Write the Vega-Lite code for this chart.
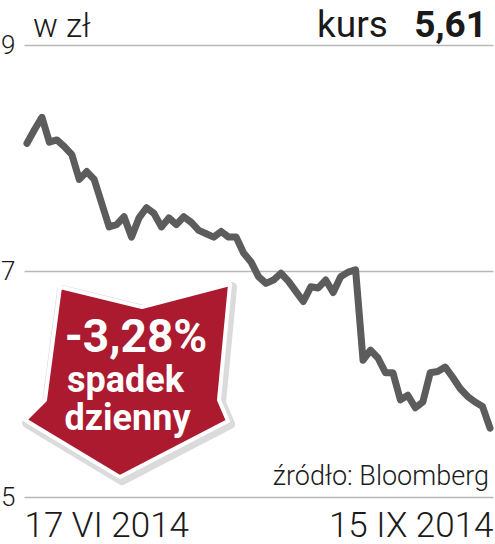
{
  "$schema": "https://vega.github.io/schema/vega-lite/v6.json",
  "width": 469,
  "height": 452,
  "autosize": {"type": "none"},
  "padding": {"left": 24, "top": 45, "right": 2, "bottom": 47},
  "background": "white",
  "config": {"view": {"stroke": null}, "font": "Roboto"},
  "encoding": {
    "x": {
      "field": "i", "type": "quantitative",
      "scale": {"domain": [-0.4, 62.4], "nice": false, "zero": false},
      "axis": {
        "values": [-0.4, 62.4],
        "labelExpr": "datum.value < 30 ? '17 VI 2014' : '15 IX 2014'",
        "labelFlush": true,
        "domain": false, "ticks": false, "grid": false,
        "labelFont": "Roboto", "labelFontSize": 35, "labelFontWeight": 300,
        "labelColor": "#1a1a1a", "labelPadding": 11, "title": null
      }
    },
    "y": {
      "field": "v", "type": "quantitative",
      "scale": {"domain": [5, 9], "nice": false, "zero": false},
      "axis": {
        "values": [5, 7, 9],
        "grid": true, "gridColor": "#b8b8b8", "gridWidth": 1.5,
        "domain": false, "ticks": false,
        "labelFont": "Roboto", "labelFontSize": 26, "labelFontWeight": 300,
        "labelColor": "#1a1a1a", "labelPadding": 9, "title": null
      }
    }
  },
  "layer": [
    {
      "data": {"values": [
        {"i": 0, "v": 8.13}, {"i": 1, "v": 8.25}, {"i": 2, "v": 8.36}, {"i": 3, "v": 8.14},
        {"i": 4, "v": 8.16}, {"i": 5, "v": 8.10}, {"i": 6, "v": 8.03}, {"i": 7, "v": 7.81},
        {"i": 8, "v": 7.88}, {"i": 9, "v": 7.81}, {"i": 10, "v": 7.60}, {"i": 11, "v": 7.39},
        {"i": 12, "v": 7.41}, {"i": 13, "v": 7.48}, {"i": 14, "v": 7.30}, {"i": 15, "v": 7.47},
        {"i": 16, "v": 7.56}, {"i": 17, "v": 7.51}, {"i": 18, "v": 7.39}, {"i": 19, "v": 7.47},
        {"i": 20, "v": 7.41}, {"i": 21, "v": 7.48}, {"i": 22, "v": 7.43}, {"i": 23, "v": 7.36},
        {"i": 24, "v": 7.33}, {"i": 25, "v": 7.30}, {"i": 26, "v": 7.35}, {"i": 27, "v": 7.30},
        {"i": 28, "v": 7.30}, {"i": 29, "v": 7.16}, {"i": 30, "v": 7.08}, {"i": 31, "v": 6.95},
        {"i": 32, "v": 6.89}, {"i": 33, "v": 6.92}, {"i": 34, "v": 6.98}, {"i": 35, "v": 6.91},
        {"i": 36, "v": 6.82}, {"i": 37, "v": 6.73}, {"i": 38, "v": 6.86}, {"i": 39, "v": 6.85},
        {"i": 40, "v": 6.92}, {"i": 41, "v": 6.81}, {"i": 42, "v": 6.95}, {"i": 43, "v": 6.99},
        {"i": 44, "v": 7.01}, {"i": 45, "v": 6.21}, {"i": 46, "v": 6.30}, {"i": 47, "v": 6.23},
        {"i": 48, "v": 6.10}, {"i": 49, "v": 6.10}, {"i": 50, "v": 5.86}, {"i": 51, "v": 5.90},
        {"i": 52, "v": 5.79}, {"i": 53, "v": 5.84}, {"i": 54, "v": 6.10}, {"i": 55, "v": 6.11},
        {"i": 56, "v": 6.15}, {"i": 57, "v": 6.06}, {"i": 58, "v": 5.96}, {"i": 59, "v": 5.89},
        {"i": 60, "v": 5.84}, {"i": 61, "v": 5.80}, {"i": 62, "v": 5.61}
      ]},
      "mark": {"type": "line", "color": "#5c5c5c", "strokeWidth": 7, "strokeJoin": "round", "strokeCap": "round"}
    },
    {
      "data": {"values": [{"i": 13.39, "v": 6.035}]},
      "mark": {
        "type": "point", "filled": true,
        "shape": "M-0.626,-0.869L0.140,-0.682L0.963,-0.897L0.860,0.187L0.944,0.383L-0.065,0.907L-0.953,0.374L-0.766,0.187Z",
        "size": 45796, "fill": "#9a9a9a", "opacity": 0.35,
        "stroke": "#9a9a9a", "strokeWidth": 10, "strokeJoin": "round",
        "xOffset": 2, "yOffset": 3
      }
    },
    {
      "data": {"values": [{"i": 13.39, "v": 6.035}]},
      "mark": {
        "type": "point", "filled": true,
        "shape": "M-0.626,-0.869L0.140,-0.682L0.963,-0.897L0.860,0.187L0.944,0.383L-0.065,0.907L-0.953,0.374L-0.766,0.187Z",
        "size": 45796, "fill": "#ac1a2f", "opacity": 1,
        "stroke": "white", "strokeWidth": 4, "strokeJoin": "round"
      }
    },
    {
      "data": {"values": [{"i": 14.6, "v": 6.283, "t": "-3,28%"}]},
      "mark": {"type": "text", "align": "center", "baseline": "alphabetic", "font": "Roboto", "fontSize": 46, "fontWeight": "bold", "color": "white"},
      "encoding": {"text": {"field": "t"}}
    },
    {
      "data": {"values": [{"i": 13.19, "v": 5.929, "t": "spadek"}, {"i": 13.46, "v": 5.593, "t": "dzienny"}]},
      "mark": {"type": "text", "align": "center", "baseline": "alphabetic", "font": "Roboto", "fontSize": 36, "fontWeight": "bold", "color": "white"},
      "encoding": {"text": {"field": "t"}}
    },
    {
      "data": {"values": [{"i": 0.8, "v": 9.071, "t": "w zł"}]},
      "mark": {"type": "text", "align": "left", "baseline": "alphabetic", "font": "Roboto", "fontSize": 33, "fontWeight": 300, "color": "#1a1a1a"},
      "encoding": {"text": {"field": "t"}}
    },
    {
      "data": {"values": [{"i": 38.83, "v": 9.071, "t": "kurs"}]},
      "mark": {"type": "text", "align": "left", "baseline": "alphabetic", "font": "Roboto", "fontSize": 37, "fontWeight": 400, "color": "#1a1a1a"},
      "encoding": {"text": {"field": "t"}}
    },
    {
      "data": {"values": [{"i": 61.6, "v": 9.071, "t": "5,61"}]},
      "mark": {"type": "text", "align": "right", "baseline": "alphabetic", "font": "Roboto", "fontSize": 37, "fontWeight": "bold", "color": "#1a1a1a"},
      "encoding": {"text": {"field": "t"}}
    },
    {
      "data": {"values": [{"i": 61.86, "v": 5.106, "t": "źródło: Bloomberg"}]},
      "mark": {"type": "text", "align": "right", "baseline": "alphabetic", "font": "Roboto", "fontSize": 27, "fontWeight": 300, "color": "#1a1a1a"},
      "encoding": {"text": {"field": "t"}}
    }
  ]
}
